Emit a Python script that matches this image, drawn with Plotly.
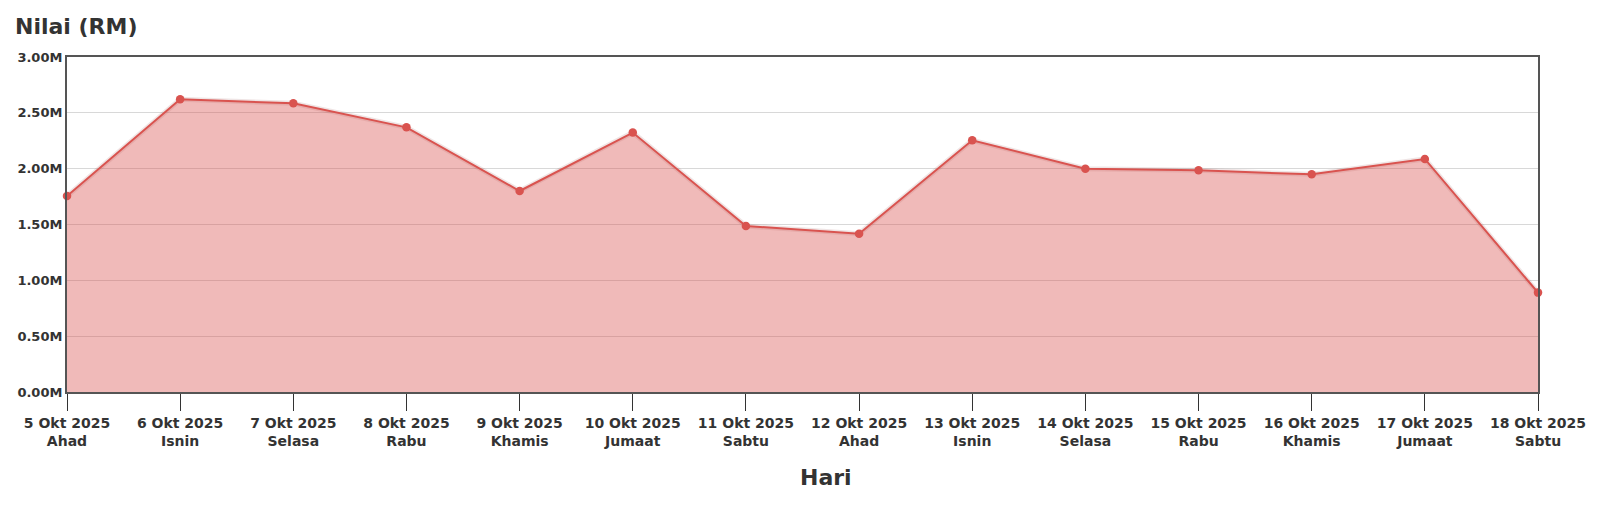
import plotly.graph_objects as go

# data (values in millions RM)
dates = ["5 Okt 2025", "6 Okt 2025", "7 Okt 2025", "8 Okt 2025", "9 Okt 2025",
         "10 Okt 2025", "11 Okt 2025", "12 Okt 2025", "13 Okt 2025", "14 Okt 2025",
         "15 Okt 2025", "16 Okt 2025", "17 Okt 2025", "18 Okt 2025"]
days = ["Ahad", "Isnin", "Selasa", "Rabu", "Khamis", "Jumaat", "Sabtu",
        "Ahad", "Isnin", "Selasa", "Rabu", "Khamis", "Jumaat", "Sabtu"]
values = [1.755, 2.621, 2.585, 2.37, 1.80, 2.323, 1.487,
          1.418, 2.254, 2.00, 1.985, 1.949, 2.087, 0.89]
y_ticks = [0, 0.5, 1.0, 1.5, 2.0, 2.5, 3.0]
y_tick_text = [f"{v:.2f}M" for v in y_ticks]

labels = [f"{d}<br>{w}" for d, w in zip(dates, days)]

LINE = "#d9534f"
TEXT = "#333333"
FONT = "DejaVu Sans"

fig = go.Figure()

# soft shadow under the line
fig.add_trace(go.Scatter(
    x=labels, y=values, mode="lines",
    line=dict(color="rgba(120,40,40,0.12)", width=5),
    hoverinfo="skip", showlegend=False, cliponaxis=False,
))

fig.add_trace(go.Scatter(
    x=labels, y=values, mode="lines+markers",
    fill="tozeroy", fillcolor="rgba(217,83,79,0.4)",
    line=dict(color=LINE, width=2),
    marker=dict(color=LINE, size=8.5),
    showlegend=False, cliponaxis=False,
))

# x axis title sits a little right of the plot centre
fig.add_annotation(
    text="Hari", x=0.5158, y=-0.2567, xref="paper", yref="paper",
    xanchor="center", yanchor="middle", showarrow=False,
    font=dict(family=FONT, size=22, color=TEXT, weight="bold"),
)

# page body adds an 8px offset, so the figure is a bit smaller than the window
fig.update_layout(
    width=1592, height=515,
    margin=dict(l=59, r=62, t=49, b=131),
    plot_bgcolor="white", paper_bgcolor="white",
    font=dict(family=FONT, color=TEXT),
    xaxis=dict(
        type="category", range=[0, len(labels) - 1], automargin=False,
        showline=True, linecolor="#555555", linewidth=2, mirror=True,
        showgrid=False, ticks="outside", ticklen=17, tickwidth=1, tickcolor="#333333",
        tickfont=dict(family=FONT, size=14, color=TEXT, weight="bold"),
    ),
    yaxis=dict(
        range=[0, 3], tickvals=y_ticks, ticktext=y_tick_text, automargin=False,
        showline=True, linecolor="#555555", linewidth=2, mirror=True,
        gridcolor="#d8d8d8", zeroline=False, ticks="", ticklabelstandoff=0,
        tickfont=dict(family=FONT, size=13, color=TEXT, weight="bold"),
    ),
    title=dict(text="Nilai (RM)", x=7 / 1592, xanchor="left", xref="container",
               y=1 - 18 / 515, yanchor="middle", yref="container",
               font=dict(family=FONT, size=22, color=TEXT, weight="bold")),
)

fig.write_html("out.html")
